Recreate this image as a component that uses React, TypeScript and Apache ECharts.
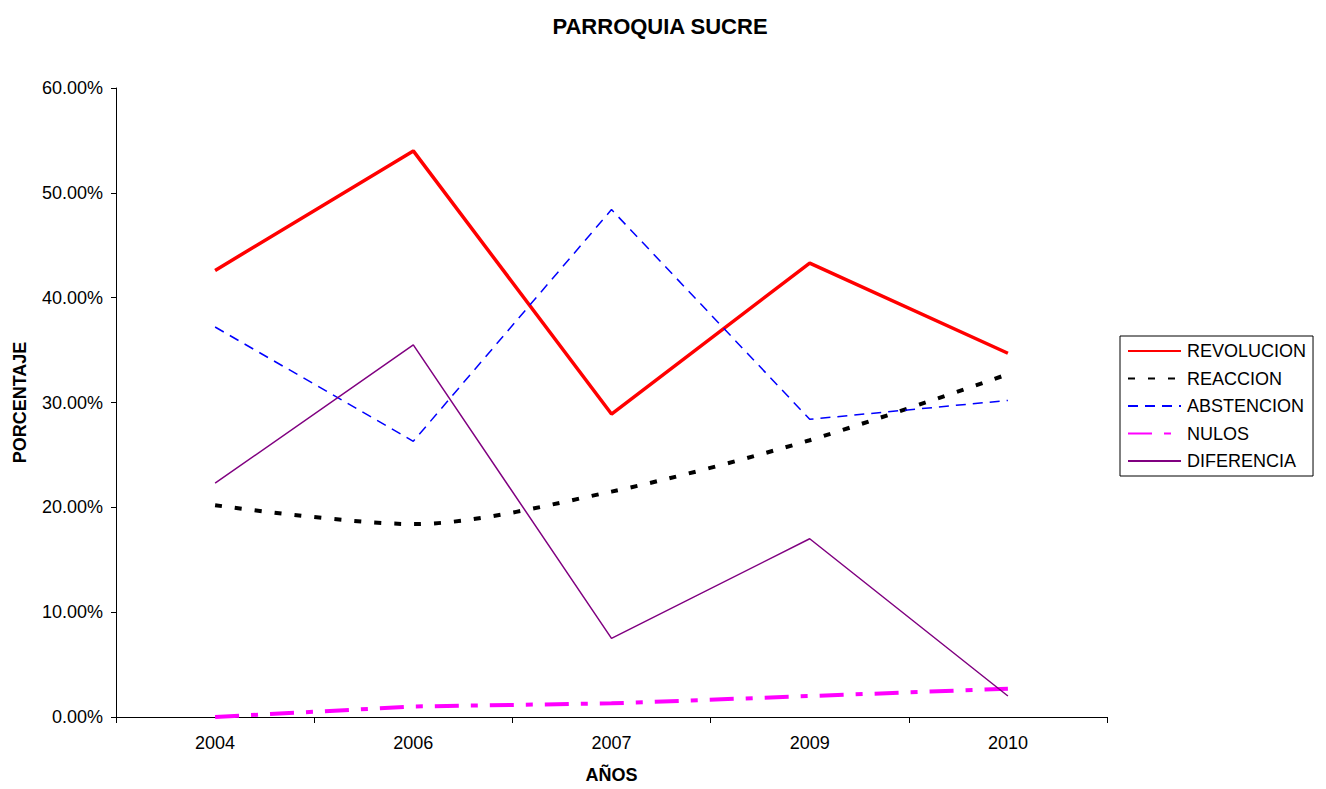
import React, { useEffect, useRef } from "react";
import * as echarts from "echarts";

const years = ["2004", "2006", "2007", "2009", "2010"];
const revolucion = [42.6, 54.0, 28.9, 43.3, 34.7];
const reaccion = [20.2, 18.4, 21.5, 26.4, 32.7];
const abstencion = [37.2, 26.3, 48.4, 28.4, 30.2];
const nulos = [0.0, 1.0, 1.3, 2.0, 2.7];
const diferencia = [22.3, 35.5, 7.5, 17.0, 2.0];
const yTicks = { min: 0, max: 60, interval: 10 };

const FONT = "'Liberation Sans', Arial, sans-serif";

export default function App() {
  const ref = useRef<HTMLDivElement>(null);
  useEffect(() => {
    const chart = echarts.init(ref.current!, null, { renderer: "svg" });
    chart.setOption({
      animation: false,
      backgroundColor: "#ffffff",
      textStyle: { fontFamily: FONT },
      title: {
        text: "PARROQUIA SUCRE",
        left: 655,
        top: 10,
        textAlign: "center",
        textStyle: { fontSize: 22, fontWeight: "bold", color: "#000", fontFamily: FONT },
      },
      grid: { left: 116, top: 88, width: 991, height: 634, containLabel: false },
      legend: {
        orient: "vertical",
        left: 1120,
        top: 336,
        itemWidth: 53,
        itemHeight: 12,
        itemGap: 9.5,
        padding: [6, 7, 6, 7],
        borderColor: "#000",
        borderWidth: 1,
        backgroundColor: "#fff",
        borderRadius: 0,
        itemStyle: { opacity: 0 },
        textStyle: { fontSize: 18, color: "#000", fontFamily: FONT, padding: [0, 0, 0, 1] },
        data: ["REVOLUCION", "REACCION", "ABSTENCION", "NULOS", "DIFERENCIA"],
      },
      xAxis: {
        type: "category",
        data: years,
        boundaryGap: true,
        name: "AÑOS",
        nameLocation: "middle",
        nameGap: 49,
        nameTextStyle: { fontSize: 18, fontWeight: "bold", color: "#000", fontFamily: FONT },
        axisLine: { lineStyle: { color: "#000", width: 1 } },
        axisTick: { show: true, length: 6, inside: false, lineStyle: { color: "#000" } },
        axisLabel: { fontSize: 18, color: "#000", margin: 17, fontFamily: FONT },
        splitLine: { show: false },
      },
      yAxis: {
        type: "value",
        min: yTicks.min,
        max: yTicks.max,
        interval: yTicks.interval,
        name: "PORCENTAJE",
        nameLocation: "middle",
        nameGap: 87,
        nameRotate: 90,
        nameTextStyle: { fontSize: 18, fontWeight: "bold", color: "#000", fontFamily: FONT },
        axisLine: { show: true, lineStyle: { color: "#000", width: 1 } },
        axisTick: { show: true, length: 5, lineStyle: { color: "#000" } },
        axisLabel: {
          fontSize: 18,
          color: "#000",
          margin: 13,
          fontFamily: FONT,
          formatter: (v: number) => v.toFixed(2) + "%",
        },
        splitLine: { show: false },
      },
      series: [
        {
          name: "REVOLUCION",
          type: "line",
          data: revolucion,
          symbol: "none",
          lineStyle: { color: "#ff0000", width: 3.5 },
          itemStyle: { color: "#ff0000" },
        },
        {
          name: "REACCION",
          type: "line",
          data: reaccion,
          symbol: "none",
          smooth: 0.3,
          lineStyle: { color: "#000000", width: 4, type: [7, 13] },
          itemStyle: { color: "#000000" },
        },
        {
          name: "ABSTENCION",
          type: "line",
          data: abstencion,
          symbol: "none",
          lineStyle: { color: "#0000ff", width: 1.5, type: [10, 7] },
          itemStyle: { color: "#0000ff" },
        },
        {
          name: "NULOS",
          type: "line",
          data: nulos,
          symbol: "none",
          lineStyle: { color: "#ff00ff", width: 4, type: [24, 12, 7, 12] },
          itemStyle: { color: "#ff00ff" },
        },
        {
          name: "DIFERENCIA",
          type: "line",
          data: diferencia,
          symbol: "none",
          lineStyle: { color: "#800080", width: 1.5 },
          itemStyle: { color: "#800080" },
        },
      ],
    });
    return () => chart.dispose();
  }, []);
  return (
    <div
      ref={ref}
      style={{ position: "fixed", left: 0, top: 0, width: 1326, height: 789, background: "#fff" }}
    />
  );
}
